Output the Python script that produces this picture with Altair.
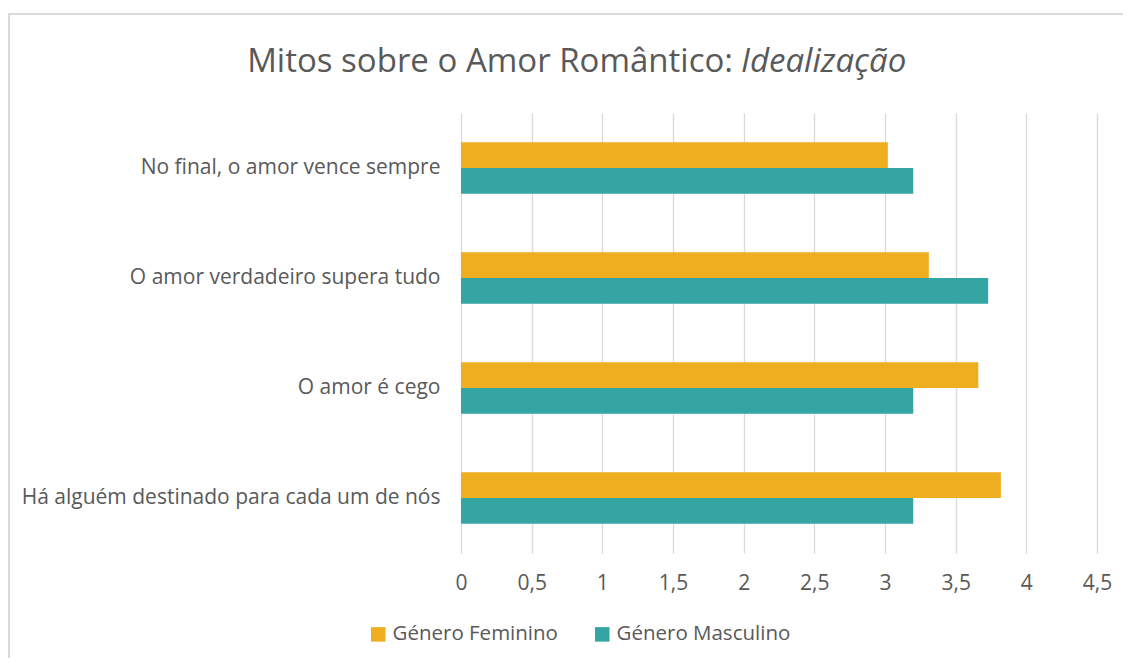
import altair as alt
import pandas as pd

categories = [
    "No final, o amor vence sempre",
    "O amor verdadeiro supera tudo",
    "O amor é cego",
    "Há alguém destinado para cada um de nós",
]
feminino = [3.02, 3.31, 3.66, 3.82]
masculino = [3.20, 3.73, 3.20, 3.20]
series = ["Género Feminino", "Género Masculino"]
colors = ["#EFAD20", "#34A5A2"]
x_ticks = [0, 0.5, 1, 1.5, 2, 2.5, 3, 3.5, 4, 4.5]

rows = []
for c, f, m in zip(categories, feminino, masculino):
    rows.append({"cat": c, "serie": series[0], "valor": f})
    rows.append({"cat": c, "serie": series[1], "valor": m})
df = pd.DataFrame(rows)

FONT = "Open Sans"
TXT = "#595959"

bars = alt.Chart(df).mark_bar().encode(
    y=alt.Y("cat:N", sort=categories, title=None,
            scale=alt.Scale(paddingInner=0.53, paddingOuter=0.265),
            axis=alt.Axis(labelFontSize=21, labelColor=TXT, labelFont=FONT,
                          labelPadding=21, ticks=False, domain=False,
                          grid=False, labelLimit=600)),
    yOffset=alt.YOffset("serie:N", sort=series),
    x=alt.X("valor:Q", title=None,
            scale=alt.Scale(domain=[0, 4.5], nice=False),
            axis=alt.Axis(values=x_ticks, format=",.1~f", labelFontSize=21,
                          labelColor=TXT, labelFont=FONT, labelPadding=19,
                          labelFlush=False,
                          ticks=False, domain=False, grid=True,
                          gridColor="#d9d9d9", gridWidth=1.3)),
    color=alt.Color("serie:N", sort=series,
                    scale=alt.Scale(domain=series, range=colors),
                    legend=alt.Legend(title=None, orient="none",
                                      direction="horizontal",
                                      legendX=-93, legendY=511,
                                      symbolType="square", symbolSize=210,
                                      symbolStrokeWidth=0,
                                      labelFontSize=20.5, labelColor=TXT,
                                      labelFont=FONT, columnPadding=34,
                                      labelLimit=400,
                                      symbolOpacity=1)),
)

title_a = alt.Chart(pd.DataFrame({"t": ["Mitos sobre o Amor Romântico:"]})).mark_text(
    align="right", baseline="alphabetic", fontSize=33, font=FONT, color=TXT
).encode(text="t:N", x=alt.value(272), y=alt.value(-41))

title_b = alt.Chart(pd.DataFrame({"t": ["Idealização"]})).mark_text(
    align="left", baseline="alphabetic", fontSize=33, font=FONT, color=TXT,
    fontStyle="italic"
).encode(text="t:N", x=alt.value(280), y=alt.value(-41))

border_l = alt.Chart(pd.DataFrame({"a": [0]})).mark_rule(
    color="#d9d9d9", strokeWidth=2
).encode(x=alt.value(-452), y=alt.value(-99), y2=alt.value(560))
border_t = alt.Chart(pd.DataFrame({"a": [0]})).mark_rule(
    color="#d9d9d9", strokeWidth=2
).encode(x=alt.value(-453), x2=alt.value(700), y=alt.value(-99))

chart = alt.layer(bars, title_a, title_b, border_l, border_t).properties(
    width=636, height=440,
    autosize=alt.AutoSizeParams(type="none"),
    padding={"left": 453, "top": 105, "right": 26, "bottom": 105},
).configure(
    locale={"number": {"decimal": ",", "thousands": ".", "grouping": [3],
                       "currency": ["", " €"]}}
).configure_view(stroke=None)

chart.save("out.html", embed_options={"renderer": "svg", "actions": False})
